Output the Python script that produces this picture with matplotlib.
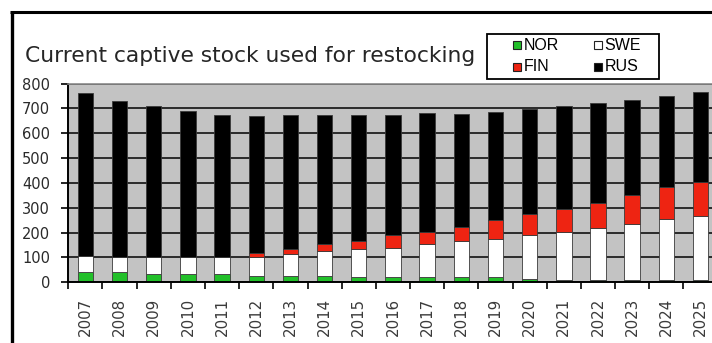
import matplotlib
matplotlib.use("Agg")
import matplotlib.pyplot as plt
from matplotlib.patches import Rectangle
from matplotlib.lines import Line2D
from matplotlib import font_manager
import numpy as np

plt.rcParams['font.family'] = ['DejaVu Sans']

years = [str(y) for y in range(2007, 2026)]
nor = [40, 40, 35, 35, 35, 25, 25, 25, 20, 20, 20, 20, 20, 12, 10, 10, 10, 10, 10]
swe = [65, 60, 65, 65, 65, 77, 87, 100, 112, 120, 133, 147, 155, 178, 193, 210, 223, 243, 258]
fin = [0, 0, 0, 0, 0, 15, 20, 28, 33, 52, 50, 56, 75, 84, 90, 101, 118, 129, 137]
rus = [655, 630, 608, 588, 573, 553, 540, 519, 507, 480, 477, 456, 436, 424, 415, 401, 384, 369, 360]

series = [("NOR", nor, "#22c02a"), ("SWE", swe, "#ffffff"),
          ("FIN", fin, "#ee2412"), ("RUS", rus, "#000000")]

# narrow face for the legend if available
installed = {f.name for f in font_manager.fontManager.ttflist}
legend_family = "Liberation Sans Narrow" if "Liberation Sans Narrow" in installed else "Liberation Sans"
legend_size = 12.3 if legend_family == "Liberation Sans Narrow" else 11.5

W, H = 712, 343
fig = plt.figure(figsize=(W / 100, H / 100), dpi=100)
fig.patch.set_facecolor("white")


def fx(px):
    return px / W


def fy(py):
    return 1 - py / H


# outer black frame (left and top edges)
fig.add_artist(Line2D([fx(11.5), fx(11.5)], [0, fy(12)], transform=fig.transFigure,
                      color="black", lw=2.4, solid_capstyle="butt"))
fig.add_artist(Line2D([fx(10.3), 1], [fy(12), fy(12)], transform=fig.transFigure,
                      color="black", lw=2.2, solid_capstyle="butt"))

left, right, top, bottom = 68.3, 717.6, 83.5, 282.3
ax = fig.add_axes([fx(left), fy(bottom), (right - left) / W, (bottom - top) / H])
ax.set_facecolor("#c3c3c3")
ax.set_axisbelow(True)

x = np.arange(len(years))
base = np.zeros(len(years))
for name, vals, col in series:
    ax.bar(x, vals, width=0.45, bottom=base, color=col, edgecolor="#3a3a3a",
           linewidth=0.6, label=name)
    base += np.array(vals)

ax.set_xlim(-0.5, len(years) - 0.5)
ax.set_ylim(0, 800)
ax.set_yticks(range(0, 801, 100))
ax.yaxis.grid(True, color="#111111", lw=1.2)
ax.tick_params(axis="y", direction="out", length=5, width=1.2, pad=8,
               labelsize=10.5, labelcolor="#2a2a2a")

ax.set_xticks(x)
ax.set_xticklabels(years, rotation=90, fontsize=10.8, color="#3a3a3a")
ax.tick_params(axis="x", which="major", length=0, pad=11)
ax.set_xticks(np.arange(-0.5, len(years), 1), minor=True)
ax.tick_params(axis="x", which="minor", direction="out", length=5, width=1.2)

for s in ("left", "bottom"):
    ax.spines[s].set_color("black")
    ax.spines[s].set_linewidth(1.4)
ax.spines["top"].set_color("#8a8a8a")
ax.spines["top"].set_linewidth(1.2)
ax.spines["right"].set_visible(False)

fig.text(fx(25), fy(61.7), "Current captive stock used for restocking",
         fontsize=15.7, color="#262626", va="baseline", ha="left")

# legend box: two columns (NOR/FIN, SWE/RUS)
fig.add_artist(Rectangle((fx(487), fy(79)), (659 - 487) / W, (79 - 34) / H,
                         transform=fig.transFigure, facecolor="white",
                         edgecolor="black", lw=1.3, zorder=5))
legend_slots = {"NOR": (513, 45), "SWE": (594, 45), "FIN": (513, 66.5), "RUS": (594, 66.5)}
for name, _, col in series:
    sx, sy = legend_slots[name]
    fig.add_artist(Rectangle((fx(sx), fy(sy + 4)), 8 / W, 8 / H,
                             transform=fig.transFigure, facecolor=col,
                             edgecolor="#222222", lw=0.8, zorder=6))
    fig.text(fx(sx + 10.5), fy(sy), name, fontsize=legend_size, color="black",
             va="center", ha="left", zorder=7, family=legend_family)

fig.savefig("out.png", dpi=100)
